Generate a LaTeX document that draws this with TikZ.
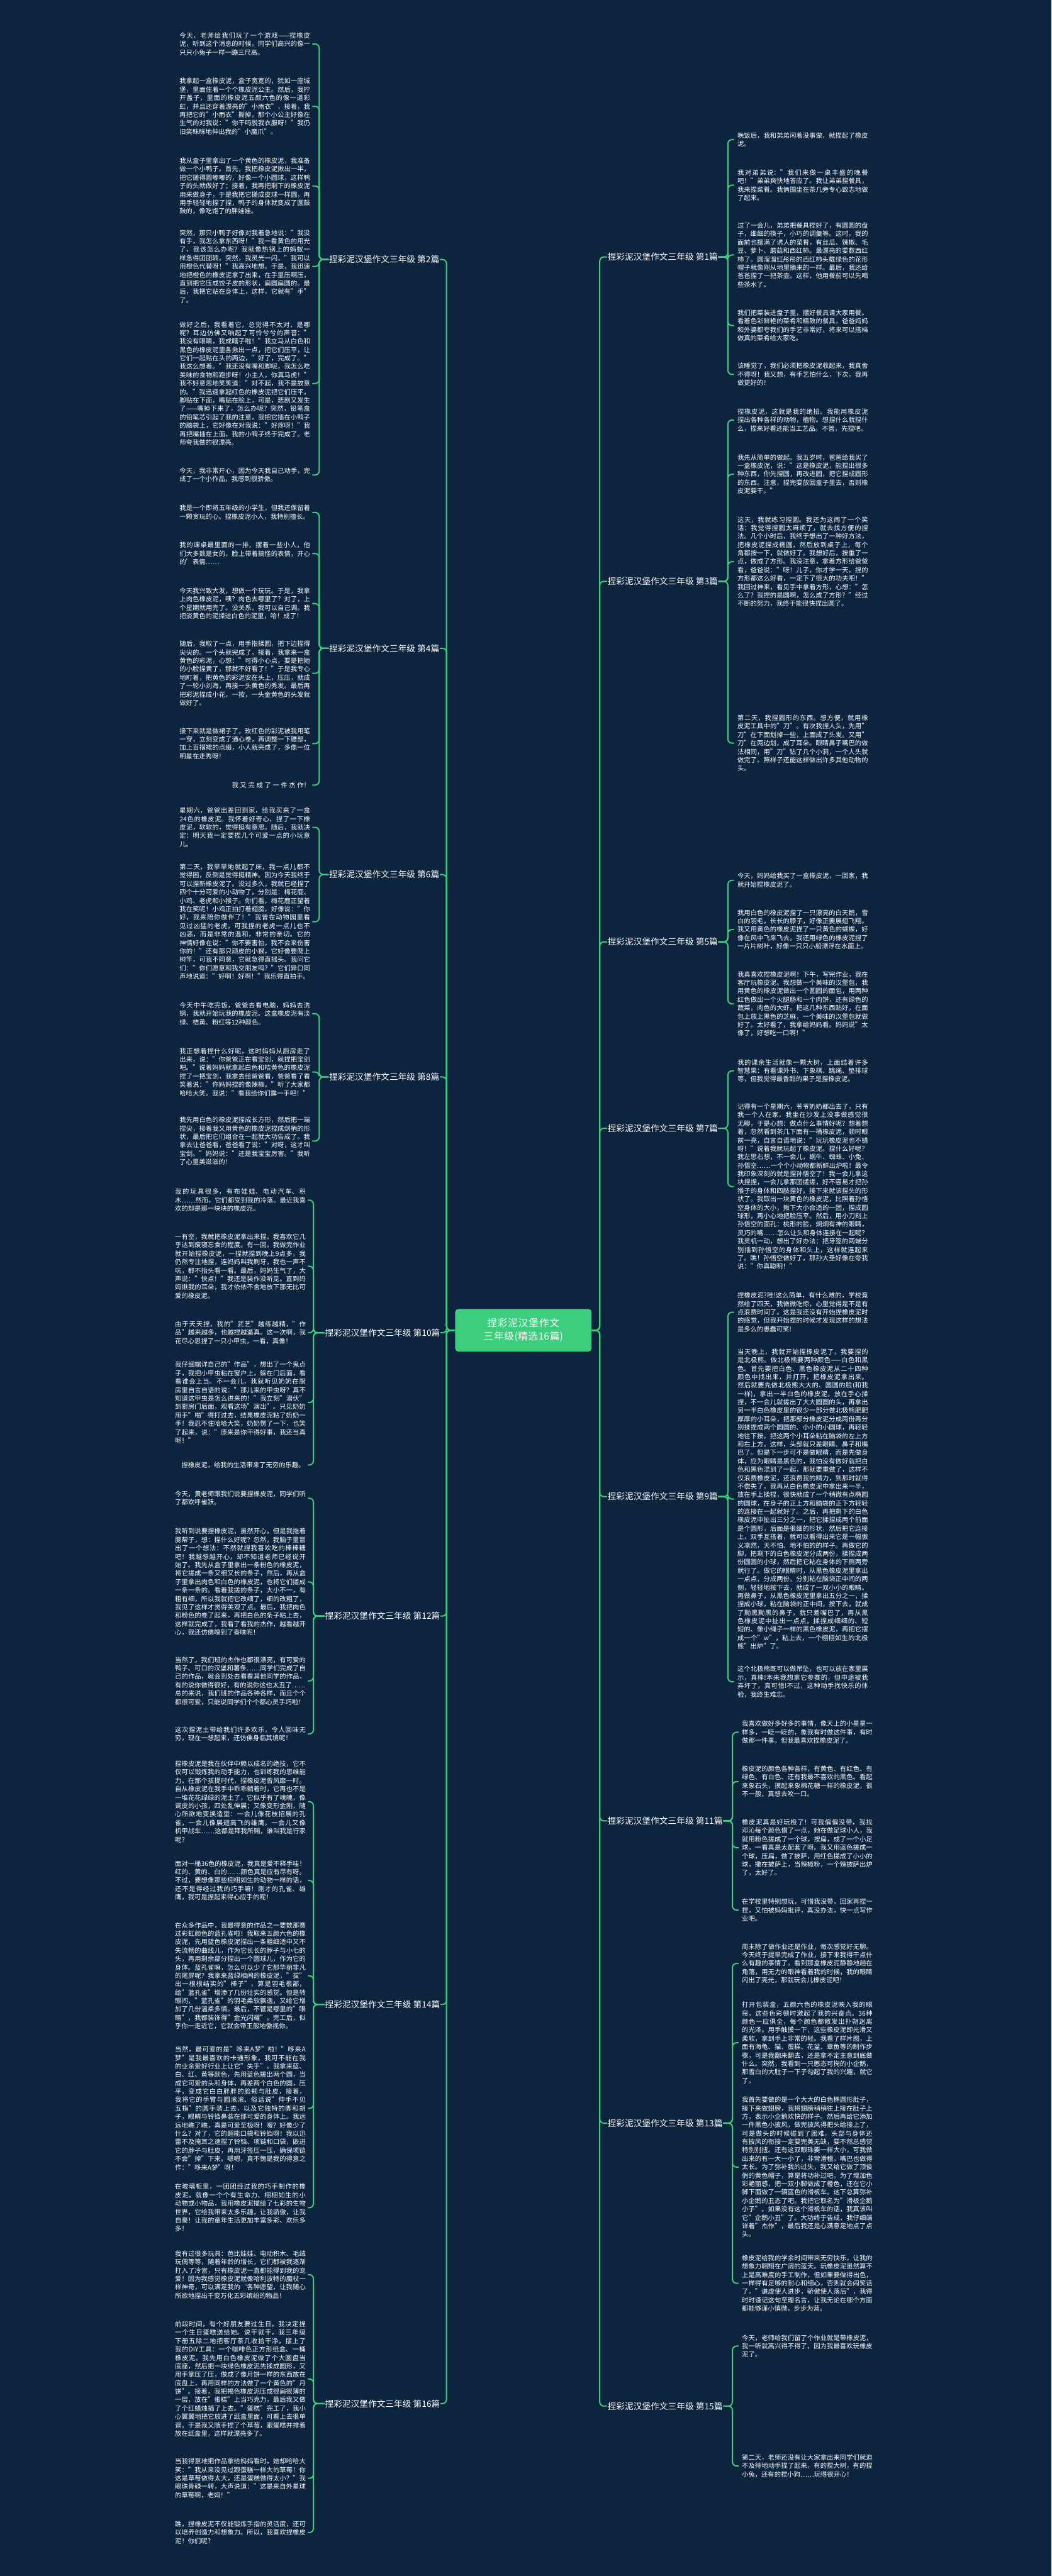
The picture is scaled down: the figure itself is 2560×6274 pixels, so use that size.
\documentclass[tikz,border=0pt]{standalone}
\usepackage{fontspec}
\setmainfont{Noto Sans CJK SC}
\XeTeXlinebreaklocale "zh"
\XeTeXlinebreakskip = 0pt plus 1pt
\definecolor{bg}{RGB}{12,36,62}
\definecolor{lg}{RGB}{60,205,125}
\begin{document}
\begin{tikzpicture}[x=1pt,y=-1pt,
  para/.style={text=white,font=\fontsize{15.8}{20.5}\selectfont,text width=318pt,align=justify,inner sep=0pt,anchor=west},
  parar/.style={para,align=right},
  lbl/.style={text=white,font=\fontsize{21}{25}\selectfont,inner sep=1pt,anchor=west},
  centre/.style={fill=lg,rounded corners=8pt,text=white,font=\fontsize{24}{32}\selectfont,text width=296pt,align=center,minimum width=332pt,minimum height=104pt,inner sep=6pt},
  link/.style={draw=lg,line width=3pt,rounded corners=10pt}]
\useasboundingbox (0,0) rectangle (2560,6274);
\fill[bg] (0,0) rectangle (2560,6274);

% ---------- centre ----------
\node[centre] (C) at (1274,3240) {捏彩泥汉堡作文三年级(精选16篇)};
\coordinate (TL) at (1087,3240);
\coordinate (TR) at (1460,3240);

% ---------- left labels ----------
\node[lbl] (L2) at (800,632) {捏彩泥汉堡作文三年级 第2篇};
\node[lbl] (L4) at (800,1579) {捏彩泥汉堡作文三年级 第4篇};
\node[lbl] (L6) at (800,2130) {捏彩泥汉堡作文三年级 第6篇};
\node[lbl] (L8) at (800,2623) {捏彩泥汉堡作文三年级 第8篇};
\node[lbl] (L10) at (790,3246) {捏彩泥汉堡作文三年级 第10篇};
\node[lbl] (L12) at (790,3936) {捏彩泥汉堡作文三年级 第12篇};
\node[lbl] (L14) at (790,4882) {捏彩泥汉堡作文三年级 第14篇};
\node[lbl] (L16) at (790,5854) {捏彩泥汉堡作文三年级 第16篇};

% ---------- right labels ----------
\node[lbl] (L1) at (1478,626) {捏彩泥汉堡作文三年级 第1篇};
\node[lbl] (L3) at (1478,1416) {捏彩泥汉堡作文三年级 第3篇};
\node[lbl] (L5) at (1478,2294) {捏彩泥汉堡作文三年级 第5篇};
\node[lbl] (L7) at (1478,2748) {捏彩泥汉堡作文三年级 第7篇};
\node[lbl] (L9) at (1478,3645) {捏彩泥汉堡作文三年级 第9篇};
\node[lbl] (L11) at (1478,4435) {捏彩泥汉堡作文三年级 第11篇};
\node[lbl] (L13) at (1478,5171) {捏彩泥汉堡作文三年级 第13篇};
\node[lbl] (L15) at (1478,5860) {捏彩泥汉堡作文三年级 第15篇};

\foreach \n in {2,4,6,8,10,12,14,16} {\draw[link] (C.west) -- (TL) |- (L\n.east);}
\foreach \n in {1,3,5,7,9,11,13,15} {\draw[link] (C.east) -- (TR) |- (L\n.west);}

% ---------- 第2篇 ----------
\node[para] (P21) at (437,107) {今天，老师给我们玩了一个游戏——捏橡皮泥，听到这个消息的时候，同学们高兴的像一只只小兔子一样一蹦三尺高。};
\node[para] (P22) at (437,259) {我拿起一盒橡皮泥，盒子宽宽的，犹如一座城堡，里面住着一个个橡皮泥公主。然后，我拧开盖子，里面的橡皮泥五颜六色的像一道彩虹，并且还穿着漂亮的"小雨衣"，接着，我再把它的"小雨衣"撕掉，那个小公主好像在生气的对我说："你干吗脱我衣服呀！"我仍旧笑眯眯地伸出我的"小魔爪"。};
\node[para] (P23) at (437,453) {我从盒子里拿出了一个黄色的橡皮泥，我准备做一个小鸭子。首先，我把橡皮泥揪出一半，把它搓得圆嘟嘟的，好像一个小圆球，这样鸭子的头就做好了；接着，我再把剩下的橡皮泥用来做身子，于是我把它搓成皮球一样圆，再用手轻轻地捏了捏，鸭子的身体就变成了圆鼓鼓的，像吃饱了的胖娃娃。};
\node[para] (P24) at (437,649) {突然，那只小鸭子好像对我着急地说："我没有手，我怎么拿东西呀！"我一看黄色的用光了，我该怎么办呢？我就像热锅上的蚂蚁一样急得团团转。突然，我灵光一闪，"我可以用橙色代替呀！"我高兴地想。于是，我迅速地把橙色的橡皮泥拿了出来，在手里压啊压，直到把它压成饺子皮的形状，扁圆扁圆的。最后，我把它贴在身体上，这样，它就有"手"了。};
\node[para] (P25) at (437,934) {做好之后，我看着它，总觉得不太对，是哪呢？耳边仿佛又响起了可怜兮兮的声音："我没有眼睛，我成瞎子啦！"我立马从白色和黑色的橡皮泥里各揪出一点，把它们压平，让它们一起贴在头的两边，"好了，完成了。"我这么想着。"我还没有嘴和脚呢，我怎么吃美味的食物和跑步呀！小主人，你真马虎！"我不好意思地笑笑道："对不起，我不是故意的。"我迅速拿起红色的橡皮泥把它们压平，脚贴在下面，嘴贴在脸上，可是，悲剧又发生了——嘴掉下来了，怎么办呢？突然，铅笔盒的铅笔芯引起了我的注意，我把它插在小鸭子的脑袋上，它好像在对我说："好疼呀！"我再把嘴插在上面，我的小鸭子终于完成了。老师夸我做的很漂亮。};
\node[para] (P26) at (437,1157) {今天，我非常开心，因为今天我自己动手，完成了一个小作品，我感到很骄傲。};
\coordinate (b2) at (777,632);
\foreach \c in {P21,P22,P23,P24,P25,P26} {\draw[link] (L2.west) -- (b2) |- ([xshift=5pt]\c.east);}

% ---------- 第4篇 ----------
\node[para] (Q1) at (437,1248) {我是一个即将五年级的小学生，但我还保留着一颗贪玩的心。捏橡皮泥小人，我特别擅长。};
\node[para] (Q2) at (437,1348) {我的课桌最里面的一排，摆着一些小人，他们大多数是女的，脸上带着搞怪的表情，开心的'表情……};
\node[para] (Q3) at (437,1470) {今天我兴致大发，想做一个玩玩。于是，我拿上肉色橡皮泥，咦？肉色去哪里了？对了，上个星期就用完了。没关系，我可以自己调。我把淡黄色的泥揉进白色的泥里，哈！成了！};
\node[para] (Q4) at (437,1640) {随后，我取了一点，用手指揉圆，把下边捏得尖尖的。一个头就完成了，接着，我拿来一盒黄色的彩泥，心想："可得小心点，要是把她的小脸捏黄了，那就不好看了！"于是我专心地盯着，把黄色的彩泥安在头上，压压，就成了一轮小刘海，再接一头黄色的秀发。最后再把彩泥捏成小花，一按，一头金黄色的头发就做好了。};
\node[para] (Q5) at (437,1811) {接下来就是做裙子了，玫红色的彩泥被我用笔一穿，立刻变成了通心卷，再调整一下腰部，加上百褶裙的点缀，小人就完成了，多像一位明星在走秀呀！};
\node[parar] (Q6) at (437,1912) {我又完成了一件杰作！};
\coordinate (b4) at (777,1579);
\foreach \c in {Q1,Q2,Q3,Q4,Q5,Q6} {\draw[link] (L4.west) -- (b4) |- ([xshift=5pt]\c.east);}

% ---------- 第6篇 ----------
\node[para] (R1) at (437,2015) {星期六，爸爸出差回到家，给我买来了一盒24色的橡皮泥。我怀着好奇心，捏了一下橡皮泥，软软的，觉得挺有意思。随后，我就决定：明天我一定要捏几个可爱一点的小玩意儿。};
\node[para] (R2) at (437,2245) {第二天，我早早地就起了床，我一点儿都不觉得困，反倒是觉得挺精神。因为今天我终于可以捏新橡皮泥了。没过多久，我就已经捏了四个十分可爱的小动物了，分别是：梅花鹿、小鸡、老虎和小猴子。你们看，梅花鹿正望着我在笑呢！小鸡正拍打着翅膀，好像说："你好，我来陪你做伴了！"我曾在动物园里看见过凶猛的老虎，可我捏的老虎一点儿也不凶恶，而是非常的温和，非常的亲切。它的神情好像在说："你不要害怕，我不会来伤害你的！"还有那只顽皮的小猴，它好像要爬上树竿，可我不同意，它就急得直摇头。我问它们："你们愿意和我交朋友吗？"它们异口同声地说道："好啊！好啊！"我乐得直拍手。};
\coordinate (b6) at (777,2130);
\foreach \c in {R1,R2} {\draw[link] (L6.west) -- (b6) |- ([xshift=5pt]\c.east);}

% ---------- 第8篇 ----------
\node[para] (S1) at (437,2469) {今天中午吃完饭，爸爸去看电脑，妈妈去洗锅，我就开始玩我的橡皮泥。这盒橡皮泥有淡绿、桔黄、粉红等12种颜色。};
\node[para] (S2) at (437,2611) {我正想着捏什么好呢，这时妈妈从厨房走了出来，说："你爸爸正在看宝剑，就捏把宝剑吧。"说着妈妈就拿起白色和桔黄色的橡皮泥捏了一把宝剑，我拿去给爸爸看，爸爸看了看笑着说："你妈妈捏的像辣椒。"听了大家都哈哈大笑。我说："看我给你们露一手吧！"};
\node[para] (S3) at (437,2779) {我先用白色的橡皮泥捏成长方形，然后把一端捏尖，接着我又用黄色的橡皮泥捏成剑柄的形状，最后把它们组合在一起就大功告成了。我拿去让爸爸看，爸爸看了说："对呀，这才叫宝剑。"妈妈说："还是我宝宝厉害。"我听了心里美滋滋的！};
\coordinate (b8) at (777,2623);
\foreach \c in {S1,S2,S3} {\draw[link] (L8.west) -- (b8) |- ([xshift=5pt]\c.east);}

% ---------- 第10篇 ----------
\node[para] (T1) at (426,2923) {我的玩具很多，有布娃娃、电动汽车、积木……然而，它们都受到我的冷落。最近我喜欢的却是那一块块的橡皮泥。};
\node[para] (T2) at (426,3084) {一有空，我就把橡皮泥拿出来捏。我喜欢它几乎达到废寝忘食的程度。有一回，我做完作业就开始捏橡皮泥，一捏就捏到晚上9点多，我仍然专注地捏，连妈妈叫我刷牙，我也一声不吭，都不抬头看一看。最后，妈妈生气了，大声说："快点！"我还是装作没听见。直到妈妈揪我的耳朵，我才依依不舍地放下那无比可爱的橡皮泥。};
\node[para] (T3) at (426,3246) {由于天天捏，我的"武艺"越练越精，"作品"越来越多，也越捏越逼真。这一次啊，我花尽心思捏了一只小甲虫，一看，真像！};
\node[para] (T4) at (426,3416) {我仔细端详自己的"作品"，想出了一个鬼点子，我把小甲虫粘在窗户上，躲在门后面，看看谁会上当。不一会儿，我就听见奶奶在厨房里自言自语的说："那儿来的甲虫呀？真不知道这甲虫是怎么进来的！"我立刻"潜伏"到厨房门后面，观看这场"演出"。只见奶奶用手"啪"得打过去，结果橡皮泥粘了奶奶一手！我忍不住哈哈大笑，奶奶愣了一下，也笑了起来，说："原来是你干得好事，我还当真呢！"};
\node[para] (T5) at (426,3568) {\hspace*{1em}捏橡皮泥，给我的生活带来了无穷的乐趣。};
\coordinate (b10) at (763,3246);
\foreach \c in {T1,T2,T3,T4,T5} {\draw[link] (L10.west) -- (b10) |- ([xshift=5pt]\c.east);}

% ---------- 第12篇 ----------
\node[para] (U1) at (426,3649) {今天，黄老师跟我们说要捏橡皮泥，同学们听了都欢呼雀跃。};
\node[para] (U2) at (426,3853) {我听到说要捏橡皮泥，虽然开心，但是我拖着腮帮子，想：捏什么好呢？忽然，我脑子里冒出了一个想法：不然就捏我喜欢吃的棒棒糖吧！我越想越开心，却不知道老师已经说开始了。我先从盒子里拿出一条粉色的橡皮泥，将它搓成一条又细又长的条子，然后，再从盒子里拿出肉色和白色的橡皮泥，也将它们搓成一条一条的。看着我搓的条子，大小不一，有粗有细，所以我就把它改细了，细的改粗了，我见了这样才觉得美观了点。最后，我把肉色和粉色的卷了起来，再把白色的条子粘上去，这样就完成了，我看了看我的杰作，越看越开心，我还仿佛嗅到了香味呢！};
\node[para] (U3) at (426,4094) {当然了，我们班的杰作也都很漂亮，有可爱的鸭子、可口的汉堡和薯条……同学们完成了自己的作品，就会到处去看看其他同学的作品，有的说你做得很好，有的说你这也太丑了……总的来说，我们班的作品各种各样，而且个个都很可爱，只能说同学们个个都心灵手巧啦！};
\node[para] (U4) at (426,4223) {这次捏泥土带给我们许多欢乐，令人回味无穷，现在一想起来，还仿佛身临其境呢！};
\coordinate (b12) at (763,3936);
\foreach \c in {U1,U2,U3,U4} {\draw[link] (L12.west) -- (b12) |- ([xshift=5pt]\c.east);}

% ---------- 第14篇 ----------
\node[para] (V1) at (426,4388) {捏橡皮泥是我在伙伴中赖以成名的绝技，它不仅可以锻炼我的动手能力，也训练我的思维能力。在那个孩提时代，捏橡皮泥曾风靡一时。自从橡皮泥在我手中乖乖躺着时，它再也不是一堆花花绿绿的泥土了，它似乎有了魂魄，像调皮的小孩，四处乱伸展；又像变形金刚，随心所欲地变换造型：一会儿像花枝招展的孔雀，一会儿像展翅高飞的雄鹰，一会儿又像机甲战车……这都是拜我所赐，谁叫我是行家呢？};
\node[para] (V2) at (426,4580) {面对一桶36色的橡皮泥，我真是爱不释手哇！红的、黄的、白的……颜色真是应有尽有呀。不过，要想像那些栩栩如生的动物一样的话，还不是得经过我的巧手嘛！刚才的孔雀、雄鹰，我可是捏起来得心应手的呢！};
\node[para] (V3) at (426,4812) {在众多作品中，我最得意的作品之一要数那赛过彩虹颜色的蓝孔雀啦！我取来五颜六色的橡皮泥，先用蓝色橡皮泥捏出一条粗细适中又不失流畅的曲线儿，作为它长长的脖子与小七的头，再用剩余部分捏出一个圆球儿，作为它的身体。蓝孔雀嘛，怎么可以少了它那华丽非凡的尾屏呢？我拿来蓝绿相间的橡皮泥，"拔"出一根根结实的"棒子"，算是羽毛根部，给"蓝孔雀"增添了几份壮实的感觉。但是转眼间，"蓝孔雀"的羽毛柔软飘逸，又给它增加了几份温柔多情。最后，不管是哪里的"眼睛"，我都装饰得"金光闪耀"。完工后，似乎你一走近它，它就会帝王般地傲视你。};
\node[para] (V4) at (426,5135) {当然，最可爱的是"哆来A梦"啦！"哆来A梦"是我最喜欢的卡通形象，我可不能在我的业余爱好行业上让它"失手"。我拿来蓝、白、红、黄等颜色，先用蓝色搓出两个圆，当成它可爱的头和身体，再差两个白色的圆，压平，变成它白白胖胖的脸颊与肚皮，接着，我将它的手臂与圆滚滚、俗话说"伸手不见五指"的圆手装上去，以及它独特的脚和胡子，眼睛与铃铛鼻装在那可爱的身体上。我远远地瞧了瞧，真是可爱至极呀！嗳？好像少了什么？对了，它的超能口袋和铃铛呀！我以迅雷不及掩耳之速捏了铃铛、项链和口袋，嵌进它的脖子与肚皮，再用牙签压一压，确保项链不会"掉"下来。嗯嗯，真不愧是我的得意之作："哆来A梦"呀！};
\node[para] (V5) at (426,5377) {在玻璃柜里，一团团经过我的巧手制作的橡皮泥，就像一个个有生命力、栩栩如生的小动物或小物品，我用橡皮泥描绘了七彩的生物世界，它给我带来太多乐趣，让我骄傲，让我自豪！让我的童年生活更加丰富多彩、欢乐多多！};
\coordinate (b14) at (763,4882);
\foreach \c in {V1,V2,V3,V4,V5} {\draw[link] (L14.west) -- (b14) |- ([xshift=5pt]\c.east);}

% ---------- 第16篇 ----------
\node[para] (W1) at (426,5540) {我有过很多玩具：芭比娃娃、电动积木、毛绒玩偶等等，随着年龄的增长，它们都被我逐渐打入了冷宫，只有橡皮泥一直都能得到我的宠爱！因为我感觉橡皮泥就像哈利波特的魔杖一样神奇，可以满足我的`各种愿望，让我随心所欲地捏出千变万化五彩缤纷的物品！};
\node[para] (W2) at (426,5794) {前段时间，有个好朋友要过生日，我决定捏一个生日蛋糕送给她。说干就干，我三年级下册五除二地把客厅茶几收拾干净，摆上了我的DIY工具：一个咖啡色正方形纸盒、一桶橡皮泥。我先用白色橡皮泥做了个大圆盘当底座，然后把一块绿色橡皮泥先揉成圆形，又用手掌压了压，做成了像月饼一样的东西放在底盘上，再用同样的方法做了一个黄色的"月饼"。接着，我把褐色橡皮泥压成很扁很薄的一层，放在"蛋糕"上当巧克力，最后我又做了个红蜡烛插了上去。"蛋糕"完工了，我小心翼翼地把它放进了纸盒里面，可看上去很单调。于是我又随手捏了个草莓，跟蛋糕并排着放在纸盒里，这样就漂亮多了。};
\node[para] (W3) at (426,6036) {当我得意地把作品拿给妈妈看时，她却哈哈大笑："我从来没见过跟蛋糕一样大的草莓！你这是草莓做得太大，还是蛋糕做得太小？"我眼珠骨碌一转，大声说道："这是来自外星球的草莓啊，老妈！"};
\node[para] (W4) at (426,6168) {瞧，捏橡皮泥不仅能锻炼手指的灵活度，还可以培养创造力和想象力。所以，我喜欢捏橡皮泥！你们呢？};
\coordinate (b16) at (763,5854);
\foreach \c in {W1,W2,W3,W4} {\draw[link] (L16.west) -- (b16) |- ([xshift=5pt]\c.east);}

% ---------- 第1篇 ----------
\node[para] (A1) at (1795,340) {晚饭后，我和弟弟闲着没事做，就捏起了橡皮泥。};
\node[para] (A2) at (1795,451) {我对弟弟说："我们来做一桌丰盛的晚餐吧！"弟弟爽快地答应了。我让弟弟捏餐具，我来捏菜肴。我俩围坐在茶几旁专心致志地做了起来。};
\node[para] (A3) at (1795,621) {过了一会儿，弟弟把餐具捏好了，有圆圆的盘子，细细的筷子，小巧的调羹等。这时，我的面前也摆满了诱人的菜肴，有丝瓜、辣椒、毛豆、萝卜、蘑菇和西红柿。最漂亮的要数西红柿了。圆溜溜红彤彤的西红柿头戴绿色的花形帽子就像刚从地里摘来的一样。最后，我还给爸爸捏了一把茶壶。这样，他用餐前可以先喝些茶水了。};
\node[para] (A4) at (1795,793) {我们把菜装进盘子里，摆好餐具请大家用餐。看着色彩鲜艳的菜肴和精致的餐具，爸爸妈妈和外婆都夸我们的手艺非常好，将来可以搭档做真的菜肴给大家吃。};
\node[para] (A5) at (1795,912) {该睡觉了，我们必须把橡皮泥收起来，我真舍不得呀！我又想，有手艺怕什么，下次，我再做更好的！};
\coordinate (b1) at (1772,626);
\foreach \c in {A1,A2,A3,A4,A5} {\draw[link] (L1.east) -- (b1) |- ([xshift=-8pt]\c.west);}

% ---------- 第3篇 ----------
\node[para] (B1) at (1795,1023) {捏橡皮泥，这就是我的绝招。我能用橡皮泥捏出各种各样的动物，植物。想捏什么就捏什么，捏来好看还能当工艺品。不管，先捏吧。};
\node[para] (B2) at (1795,1155) {我先从简单的做起。我五岁时，爸爸给我买了一盒橡皮泥，说："这是橡皮泥，能捏出很多种东西，你先捏圆，再改进圆，把它捏成圆形的东西。注意，捏完要放回盒子里去，否则橡皮泥要干。"};
\node[para] (B3) at (1795,1368) {这天，我就练习捏圆。我还为这闹了一个笑话：我觉得捏圆太麻烦了，就去找方便的捏法。几个小时后，我终于想出了一种好方法，把橡皮泥捏成椭圆，然后放到桌子上，每个角都按一下，就做好了。我想好后，按重了一点，做成了方形。我没注意，拿着方形给爸爸看，爸爸说："呀！儿子，你才学一天，捏的方形都这么好看，一定下了很大的功夫吧！"我回过神来，看见手中拿着方形，心想："怎么了？我捏的是圆啊，怎么成了方形？"经过不断的努力，我终于能很快捏出圆了。};
\node[para] (B4) at (1795,1810) {第二天，我捏圆形的东西。想方便，就用橡皮泥工具中的"刀"。有次我捏人头，先用"刀"在下面划掉一些，上面成了头发。又用"刀"在两边划，成了耳朵。眼睛鼻子嘴巴的做法相同，用"刀"钻了几个小洞，一个人头就做完了。照样子还能这样做出许多其他动物的头。};
\coordinate (b3) at (1772,1416);
\foreach \c in {B1,B2,B3,B4} {\draw[link] (L3.east) -- (b3) |- ([xshift=-8pt]\c.west);}

% ---------- 第5篇 ----------
\node[para] (C1) at (1795,2144) {今天，妈妈给我买了一盒橡皮泥，一回家，我就开始捏橡皮泥了。};
\node[para] (C2) at (1795,2264) {我用白色的橡皮泥捏了一只漂亮的白天鹅，雪白的羽毛，长长的脖子，好像正要展翅飞翔。我又用黄色的橡皮泥捏了一只黄色的蝴蝶，好像在风中飞来飞去。我还用绿色的橡皮泥捏了一片片树叶，好像一只只小船漂浮在水面上。};
\node[para] (C3) at (1795,2445) {我真喜欢捏橡皮泥啊！下午，写完作业，我在客厅玩橡皮泥。我想做一个美味的汉堡包，我用黄色的橡皮泥做出一个圆圆的面包，用两种红色做出一个火腿肠和一个肉饼，还有绿色的蔬菜，肉色的大虾。把这几种东西贴好，在面包上放上黑色的芝麻，一个美味的汉堡包就做好了。太好看了，我拿给妈妈看。妈妈说"太像了，好想吃一口啊！"};
\coordinate (b5) at (1772,2294);
\foreach \c in {C1,C2,C3} {\draw[link] (L5.east) -- (b5) |- ([xshift=-8pt]\c.west);}

% ---------- 第7篇 ----------
\node[para] (D1) at (1795,2608) {我的课余生活就像一颗大树，上面结着许多智慧果：有看课外书、下象棋、跳绳、垫排球等，但我觉得最香甜的果子是捏橡皮泥。};
\node[para] (D2) at (1795,2890) {记得有一个星期六，爷爷奶奶都出去了，只有我一个人在家，我坐在沙发上没事做感觉很无聊，于是心想：做点什么事情好呢？想着想着，忽然看到茶几下面有一桶橡皮泥，顿时眼前一亮，自言自语地说："玩玩橡皮泥也不错呀！"说着我就玩起了橡皮泥。捏什么好呢？我左思右想，不一会儿，蜗牛、蜘蛛、小兔、孙悟空……一个个小动物都新鲜出炉啦！最令我印象深刻的就是捏孙悟空了！我一会儿拿这块捏捏，一会儿拿那团搓搓，好不容易才把孙猴子的身体和四肢捏好。接下来就该捏头的形状了。我取出一块黄色的橡皮泥，比照着孙悟空身体的大小，揪下大小合适的一团，捏成圆球形，再小心地把脸压平。然后，用小刀刻上孙悟空的面孔：桃形的脸，炯炯有神的眼睛，灵巧的嘴……怎么让头和身体连接在一起呢？我灵机一动，想出了好办法：把牙签的两端分别插到孙悟空的身体和头上，这样就连起来了。瞧！孙悟空做好了，那孙大圣好像在夸我说："你真聪明！"};
\coordinate (b7) at (1772,2748);
\foreach \c in {D1,D2} {\draw[link] (L7.east) -- (b7) |- ([xshift=-8pt]\c.west);}

% ---------- 第9篇 ----------
\node[para] (E1) at (1795,3196) {捏橡皮泥?哇!这么简单，有什么难的，学校竟然给了四天，我微微吃惊，心里觉得是不是有点浪费时间了。这是我还没有开始捏橡皮泥时的感觉，但我开始捏的时候才发现这样的想法是多么的愚蠢可笑!};
\node[para] (E2) at (1795,3651) {当天晚上，我就开始捏橡皮泥了，我要捏的是北极熊。做北极熊要两种颜色——白色和黑色。首先要把白色、黑色橡皮泥从二十四种颜色中找出来，并打开，把橡皮泥拿出来。然后就要先做北极熊大大的、圆圆的脸(和我一样)，拿出一半白色的橡皮泥，放在手心揉捏，不一会儿就搓出了大大圆圆的头，再拿出另一半白色橡皮里的很少一部分做北极熊肥肥厚厚的小耳朵，把那部分橡皮泥分成两份再分别揉捏成两个圆圆的、小小的小圆球，再轻轻地往下按，把这两个小耳朵粘在脑袋的左上方和右上方。这样，头部就只差眼睛、鼻子和嘴巴了。但是下一步可不是做眼睛，而是先做身体，应为眼睛是黑色的，我怕没有做好就把白色和黑色混到了一起，那就要重做了，这样不仅浪费橡皮泥，还浪费我的精力，到那时就得不偿失了。我再从白色橡皮泥中拿出来一半，放在手上揉捏，很快就成了一个稍微有点椭圆的圆球，在身子的正上方和脑袋的正下方轻轻的连接在一起就好了。之后，再把剩下的白色橡皮泥中扯出三分之一，把它揉捏成两个前面是个圆形，后面是很细的形状，然后把它连接上，双手互搭着，就可以看得出来它是一幅傲义凛然，天不怕、地不怕的的样子。再做它的脚，把剩下的白色橡皮泥分成两份，揉捏成两份圆圆的小球，然后把它粘在身体的下侧两旁就行了。做它的眼睛时，从黑色橡皮泥里拿出一点点，分成两份，分别粘在脑袋正中间的两侧，轻轻地按下去，就成了一双小小的眼睛。再做鼻子，从黑色橡皮泥里拿出五分之一，揉捏成小球，粘在脑袋的正中间，按下去，就成了黝黑黝黑的鼻子，就只差嘴巴了，再从黑色橡皮泥中扯出一点点，揉捏成细细的、短短的、像小绳子一样的黑色橡皮泥，再把它摆成一个"w"，粘上去，一个栩栩如生的北极熊"出炉"了。};
\node[para] (E3) at (1795,4096) {这个北极熊既可以做吊坠，也可以放在家里展示，真棒!本来我想拿它参赛的，但中途被我弄坏了，真可惜!不过，这种动手找快乐的体验，我终生难忘。};
\coordinate (b9) at (1772,3645);
\foreach \c in {E1,E2,E3} {\draw[link] (L9.east) -- (b9) |- ([xshift=-8pt]\c.west);}

% ---------- 第11篇 ----------
\node[para] (F1) at (1806,4219) {我喜欢做好多好多的事情，像天上的小星星一样多，一眨一眨的，象我有时做这件事，有时做那一件事。但我最喜欢捏橡皮泥了。};
\node[para] (F2) at (1806,4339) {橡皮泥的颜色各种各样，有黄色、有红色、有绿色、有白色、还有我最不喜欢的黑色。看起来象石头，摸起来象棉花糖一样的橡皮泥，很不一般，真想去咬一口。};
\node[para] (F3) at (1806,4500) {橡皮泥真是好玩极了！可我偏偏没带，我找邓沁每个颜色借了一点，她在做足球小人，我就用粉色搓成了一个球，按扁，成了一个小足球，一看真是太配套了呀。我又用蓝色搓成一个球，压扁，做了披萨，用红色搓成了小小的球，撒在披萨上，当辣椒粉，一个辣披萨出炉了，太好了。};
\node[para] (F4) at (1806,4652) {在学校里特别想玩，可惜我没带，回家再捏一捏，又怕被妈妈批评，真没办法，快一点写作业吧。};
\coordinate (b11) at (1783,4435);
\foreach \c in {F1,F2,F3,F4} {\draw[link] (L11.east) -- (b11) |- ([xshift=-8pt]\c.west);}

% ---------- 第13篇 ----------
\node[para] (G1) at (1806,4782) {周末除了做作业还是作业，每次感觉好无聊。今天终于提早完成了作业，接下来我得干点什么有趣的事情了。看到那盒橡皮泥静静地趟在角落，用无力的眼神看着我的时候，我的眼睛闪出了亮光，那就玩会儿橡皮泥吧！};
\node[para] (G2) at (1806,4975) {打开包装盒，五颜六色的橡皮泥映入我的眼帘，这些色彩顿时激起了我的兴奋点。36种颜色一应俱全，每个颜色都散发出扑朔迷离的光泽。用手触摸一下，这些橡皮泥即光滑又柔软，拿到手上非常的轻。我看了样片图，上面有海龟、猫、蛋糕、花盆、章鱼等的制作步骤，可是我翻来翻去，还是拿不定主意到底做什么。突然，我看到一只憨态可掬的小企鹅，那雪白的大肚子一下子勾起了我的兴趣，就它了。};
\node[para] (G3) at (1806,5278) {我首先要做的是一个大大的白色椭圆形肚子，接下来做翅膀，我将翅膀稍稍往上接在肚子上方，表示小企鹅欢快的样子。然后再给它添加一件黑色小披风，做完披风得把头给接上了，可是做头的时候碰到了困难，头部与身体还有披风的衔接一定要完美无缺，要不然总感觉特别别扭。还有这双眼珠要一样大小，可我做出来的有一大一小了，非常滑稽，嘴巴也做得太长。为了弥补我的过失，我又给它做了顶俊俏的黄色帽子，算是将功补过吧。为了增加色彩艳丽感，把一双小脚做成了橙色，还在它小脚下面做了一辆蓝色的滑板车。这下总算弥补小企鹅的丑态了吧。我把它取名为"滑板企鹅小子"，如果没有这个滑板车的话，我真该叫它"企鹅小丑"了。大功终于告成，我仔细端详着"杰作"，最后我还是心满意足地点了点头。};
\node[para] (G4) at (1806,5561) {橡皮泥给我的学余时间带来无穷快乐，让我的想象力翱翔在广阔的蓝天。玩橡皮泥虽然算不上是高难度的手工制作，但如果要做得出色，一样得有足够的耐心和细心，否则就会闹笑话了。"谦虚使人进步，骄傲使人落后"，我得时时谨记这句至理名言，让我无论在哪个方面都能够谨小慎微，步步为营。};
\coordinate (b13) at (1783,5171);
\foreach \c in {G1,G2,G3,G4} {\draw[link] (L13.east) -- (b13) |- ([xshift=-8pt]\c.west);}

% ---------- 第15篇 ----------
\node[para] (H1) at (1806,5714) {今天，老师给我们留了个作业就是带橡皮泥，我一听就高兴得不得了，因为我最喜欢玩橡皮泥了。};
\node[para] (H2) at (1806,6006) {第二天，老师还没有让大家拿出来同学们就迫不及待地动手捏了起来，有的捏大树，有的捏小兔，还有的捏小狗……玩得很开心！};
\coordinate (b15) at (1783,5860);
\foreach \c in {H1,H2} {\draw[link] (L15.east) -- (b15) |- ([xshift=-8pt]\c.west);}

\end{tikzpicture}
\end{document}
